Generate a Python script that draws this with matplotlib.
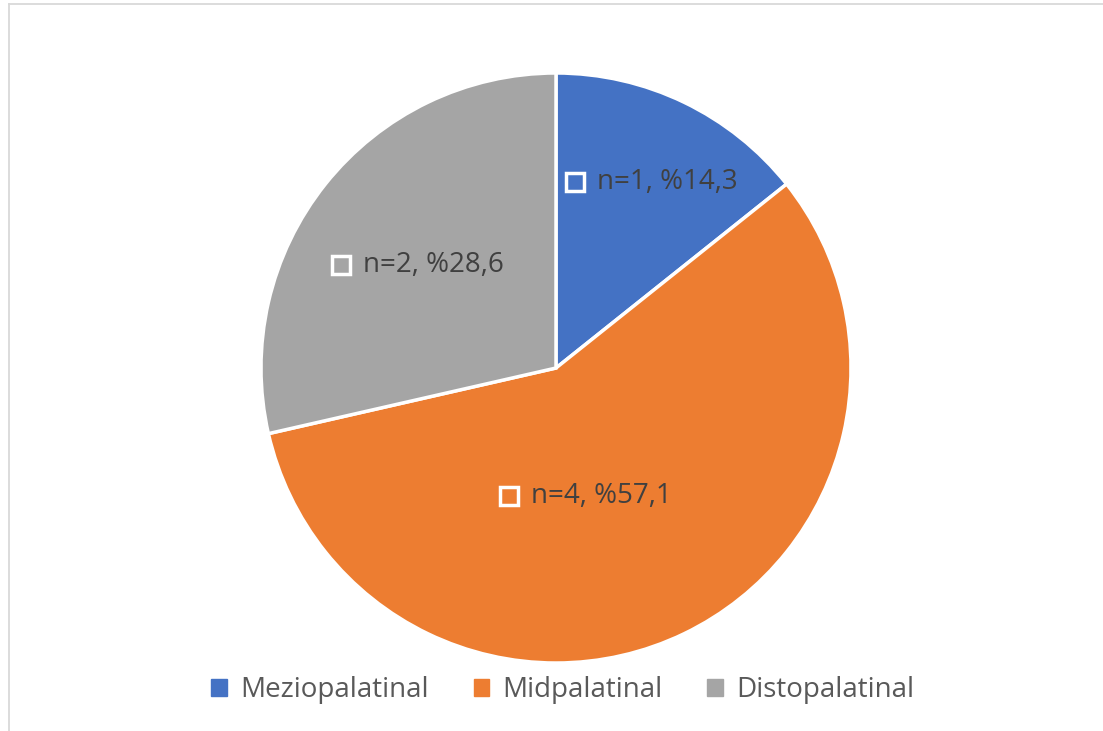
import matplotlib
matplotlib.use("Agg")
import matplotlib.pyplot as plt
from matplotlib.lines import Line2D

categories = ["Meziopalatinal", "Midpalatinal", "Distopalatinal"]
counts = [1, 4, 2]
percent_labels = ["%14,3", "%57,1", "%28,6"]
colors = ["#4472C4", "#ED7D31", "#A5A5A5"]

plt.rcParams["font.family"] = ["Open Sans", "DejaVu Sans"]

W, H = 1103, 731
fig = plt.figure(figsize=(W / 100, H / 100), dpi=100)

# pie centre (556, 368) px, radius 295 px
cx, cy, r = 556, 368, 295
ax = fig.add_axes([(cx - r) / W, (H - cy - r) / H, 2 * r / W, 2 * r / H])
wedges, _ = ax.pie(
    counts,
    colors=colors,
    startangle=90,
    counterclock=False,
    radius=1.0,
    wedgeprops=dict(edgecolor="white", linewidth=2.5),
)
ax.set_xlim(-1, 1)
ax.set_ylim(-1, 1)
ax.set_aspect("equal")

# label anchor points (marker centre), in pie units
label_pos = [(0.065, 0.63), (-0.16, -0.435), (-0.73, 0.35)]
for (x, y), n, pct in zip(label_pos, counts, percent_labels):
    ax.plot(x, y, marker="s", markersize=12.5, markerfacecolor="none",
            markeredgecolor="white", markeredgewidth=2.5, clip_on=False)
    ax.text(x + 0.075, y, f"n={n}, {pct}", fontsize=20, color="#404040",
            ha="left", va="center", clip_on=False)

# thin frame around the chart area
frame = fig.add_axes([0, 0, 1, 1], facecolor="none")
frame.set_xlim(0, W)
frame.set_ylim(H, 0)
frame.axis("off")
frame.add_line(Line2D([8.5, 8.5], [3.5, H], color="#D9D9D9", linewidth=1.3))
frame.add_line(Line2D([8.5, W], [3.5, 3.5], color="#D9D9D9", linewidth=1.3))

handles = [plt.Rectangle((0, 0), 1, 1, color=c) for c in colors]
fig.legend(handles, categories, loc="center", bbox_to_anchor=(563 / W, 1 - 690 / H),
           ncol=3, frameon=False, fontsize=20, labelcolor="#595959",
           handlelength=0.55, handleheight=0.55, handletextpad=0.5,
           columnspacing=1.6)

fig.savefig("out.png", dpi=100)
